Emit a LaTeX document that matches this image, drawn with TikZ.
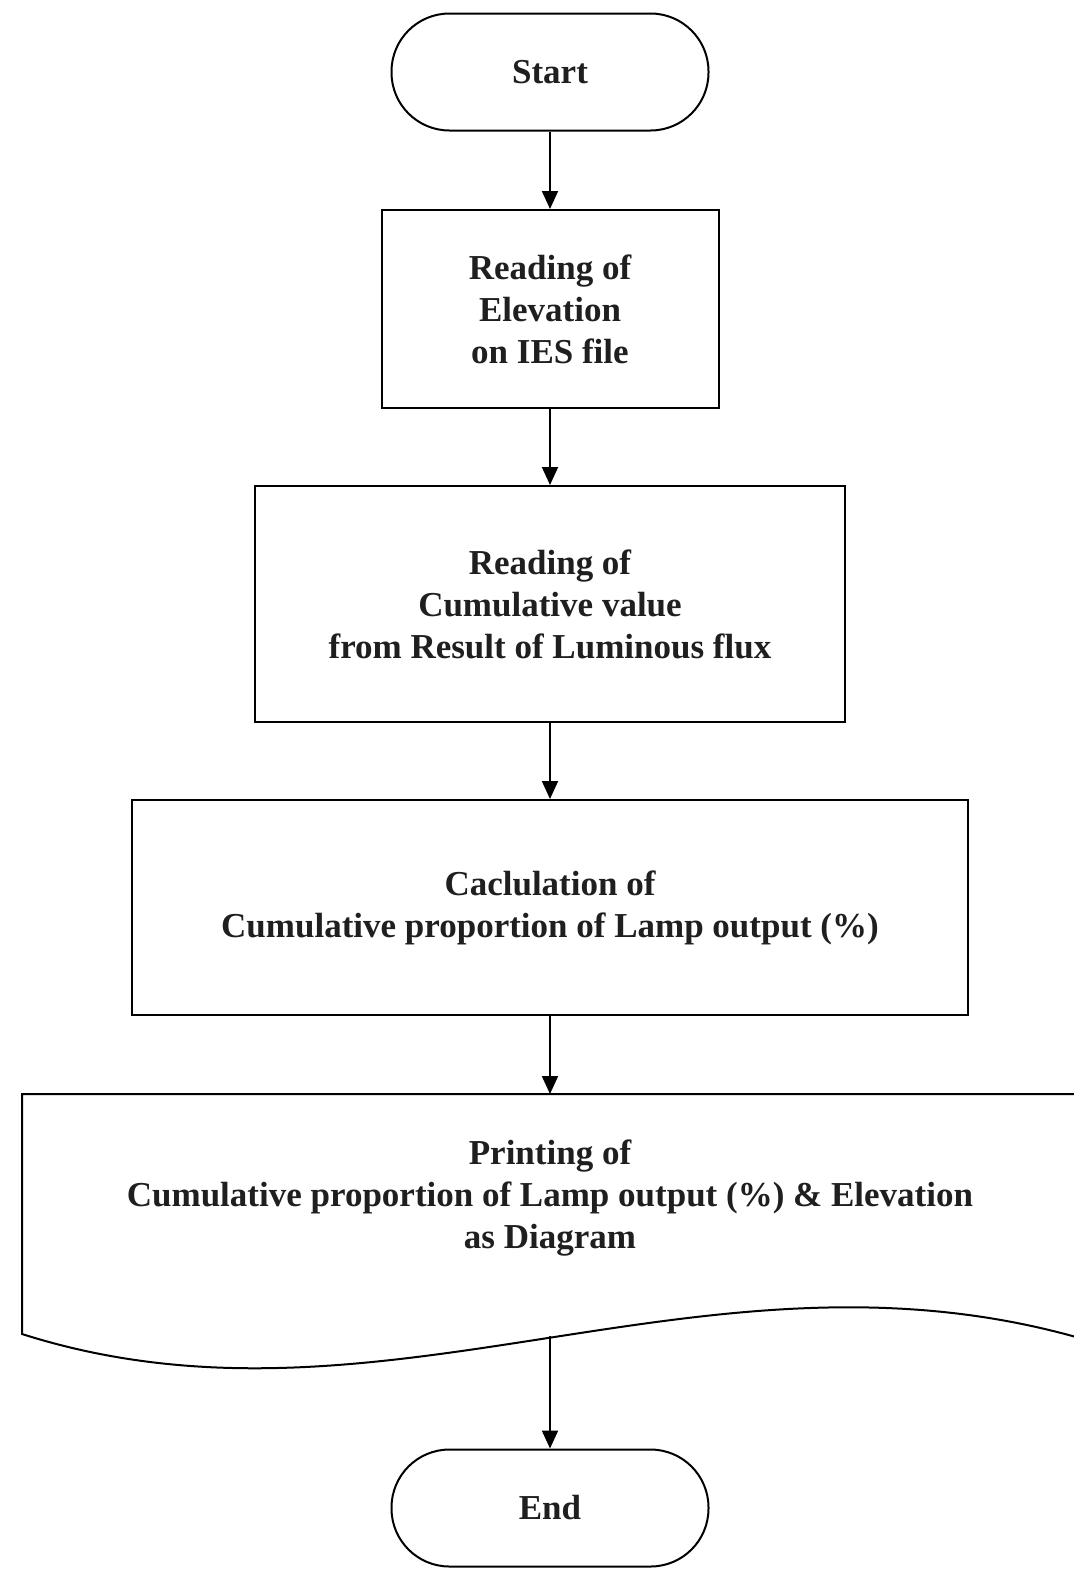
\documentclass[tikz,border=0pt]{standalone}
\usepackage{fontspec}
\setmainfont{Liberation Serif}
\usetikzlibrary{arrows.meta}
\begin{document}
\begin{tikzpicture}[x=0.5pt,y=-0.5pt,
  txt/.style={align=center,font=\bfseries\fontsize{17.5}{21}\selectfont,text=black!88,inner sep=0pt},
  box/.style={txt,draw,line width=1pt},
  term/.style={box,rounded corners=29pt,minimum width=158.5pt,minimum height=58.5pt},
  arr/.style={-{Triangle[length=9pt,width=8pt]},line width=1pt}]
\useasboundingbox (0,0) rectangle (1073,1579);
\node[term] (start) at (550,72) {Start};
\node[box,minimum width=168.5pt,minimum height=99pt] (b1) at (550,309)
  {Reading of\\Elevation\\on IES file};
\node[box,minimum width=295pt,minimum height=118pt] (b2) at (550,604)
  {Reading of\\Cumulative value\\from Result of Luminous flux};
\node[box,minimum width=418pt,minimum height=107.5pt] (b3) at (550,907.5)
  {Caclulation of\\Cumulative proportion of Lamp output (\%)};
\draw[line width=1pt] (1076,1337) -- (1076,1094) -- (22,1094) -- (22,1334)
  .. controls (380,1448) and (700,1232) .. (1076,1337);
\node[txt] (doc) at (550,1198)
  {Printing of\\Cumulative proportion of Lamp output (\%) \& Elevation\\as Diagram};
\coordinate (doctop) at (550,1094);
\coordinate (docbot) at (550,1336);
\node[term] (end) at (550,1508) {End};
\draw[arr] (start) -- (b1);
\draw[arr] (b1) -- (b2);
\draw[arr] (b2) -- (b3);
\draw[arr] (b3.south) -- (doctop);
\draw[arr] (docbot) -- (end);
\end{tikzpicture}
\end{document}
